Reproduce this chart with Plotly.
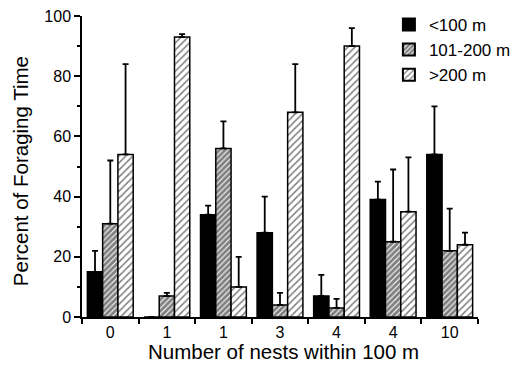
import plotly.graph_objects as go

groups = ["0", "1", "1", "3", "4", "4", "10"]
series_names = ["<100 m", "101-200 m", ">200 m"]
near_vals = [15, 0, 34, 28, 7, 39, 54]
near_err_top = [22, 0, 37, 40, 14, 45, 70]
mid_vals = [31, 7, 56, 4, 3, 25, 22]
mid_err_top = [52, 8, 65, 8, 6, 49, 36]
far_vals = [54, 93, 10, 68, 90, 35, 24]
far_err_top = [84, 94, 20, 84, 96, 53, 28]

x = list(range(len(groups)))
font = "Liberation Sans, Arial, Helvetica, sans-serif"

def mk(name, vals, tops, pattern):
    show_err = [t - v if t > v else 0 for v, t in zip(vals, tops)]
    return go.Bar(
        name=name, x=x, y=vals,
        marker=dict(color="white" if pattern else "black",
                    line=dict(color="black", width=1.5),
                    pattern=pattern),
        error_y=dict(type="data", symmetric=False, array=show_err,
                     arrayminus=[0] * len(vals), color="black",
                     thickness=1.8, width=3, visible=True),
    )

fig = go.Figure()
fig.add_trace(mk(series_names[0], near_vals, near_err_top, None))
fig.add_trace(mk(series_names[1], mid_vals, mid_err_top,
                 dict(shape="/", fgcolor="black", bgcolor="white", size=4, solidity=0.72)))
fig.add_trace(mk(series_names[2], far_vals, far_err_top,
                 dict(shape="/", fgcolor="black", bgcolor="white", size=5, solidity=0.3)))

fig.update_layout(
    width=521, height=378,
    margin=dict(l=82, r=43, t=16, b=61, autoexpand=False),
    paper_bgcolor="white", plot_bgcolor="white",
    barmode="group", bargap=0.19, bargroupgap=0,
    font=dict(family=font, size=16, color="black"),
    showlegend=True,
    legend=dict(x=0.775, y=1.03, xanchor="left", yanchor="top",
                font=dict(size=17), bgcolor="rgba(0,0,0,0)",
                itemsizing="constant", tracegroupgap=0),
    annotations=[
        dict(text="Number of nests within 100 m", xref="paper", yref="paper",
             x=0.51, y=-0.116, yanchor="middle", xanchor="center", showarrow=False,
             font=dict(size=20.5)),
        dict(text="Percent of Foraging Time", xref="paper", yref="paper",
             x=-0.157, y=0.484, xanchor="center", yanchor="middle", textangle=-90,
             showarrow=False, font=dict(size=20.5)),
    ],
)
fig.update_xaxes(
    range=[-0.5, 6.5], tickmode="array", tickvals=x, ticktext=groups,
    ticks="", showline=True, linecolor="black", linewidth=1.5,
    showgrid=False, zeroline=False, tickfont=dict(size=16), automargin=False,
    minor=dict(tickmode="array", tickvals=[i - 0.5 for i in range(len(groups) + 1)],
               ticks="outside", ticklen=5, tickwidth=1.5, tickcolor="black", showgrid=False),
)
fig.update_yaxes(
    range=[0, 100], tickmode="linear", tick0=0, dtick=20,
    ticks="outside", ticklen=6, tickwidth=1.5, tickcolor="black",
    showline=True, linecolor="black", linewidth=1.5,
    showgrid=False, zeroline=False, tickfont=dict(size=16), automargin=False,
    minor=dict(dtick=10, ticks="outside", ticklen=3, tickwidth=1.5, tickcolor="black", showgrid=False),
)
fig.write_html("out.html", config={"displayModeBar": False},
               post_script="document.body.style.margin='0';")
